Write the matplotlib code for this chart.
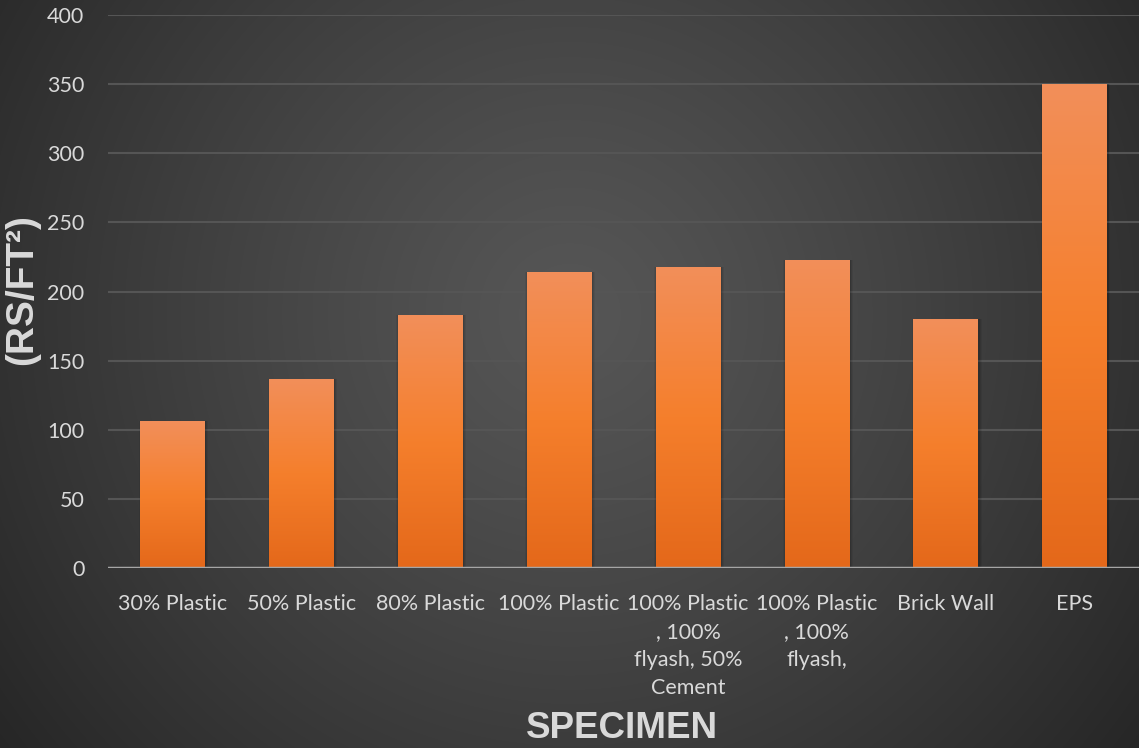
import numpy as np
import matplotlib
matplotlib.use("Agg")
import matplotlib.pyplot as plt
from matplotlib.colors import LinearSegmentedColormap

categories = ["30% Plastic", "50% Plastic", "80% Plastic", "100% Plastic",
              "100% Plastic\n, 100%\nflyash, 50%\nCement",
              "100% Plastic\n, 100%\nflyash,",
              "Brick Wall", "EPS"]
cost = [106, 137, 183, 214, 218, 223, 180, 350]
yticks = [0, 50, 100, 150, 200, 250, 300, 350, 400]

W, H = 1139, 748
fig = plt.figure(figsize=(W / 100, H / 100), dpi=100)

# radial background
bg = fig.add_axes([0, 0, 1, 1], zorder=-10)
yy, xx = np.mgrid[0:H, 0:W]
r = np.sqrt(((xx - 0.5 * W) / (0.62 * W)) ** 2 + ((yy - 0.42 * H) / (0.62 * W)) ** 2)
r = np.clip(r, 0, 1)
c0, c1 = 0x56 / 255, 0x27 / 255
val = c0 + (c1 - c0) * r ** 1.2
bg.imshow(np.dstack([val, val, val]), aspect="auto", extent=[0, 1, 0, 1])
bg.set_axis_off()

ax = fig.add_axes([108 / W, 1 - 568 / H, 1 - 108 / W, (568 - 15) / H])
ax.set_facecolor("none")
x = np.arange(len(categories))
bars = ax.bar(x, cost, width=0.5, color="#f47c2a", zorder=3)

grad = LinearSegmentedColormap.from_list("g", ["#e4681a", "#f57f2c", "#f28f5a"])
g = np.linspace(0, 1, 256).reshape(-1, 1)
for b in bars:
    x0, w, h = b.get_x(), b.get_width(), b.get_height()
    # soft shadow
    for k, a in [(0.04, 0.06), (0.025, 0.08), (0.012, 0.1)]:
        ax.bar(x0 + w / 2 + 0.008, h + 0.5, width=w + k, bottom=-0.5, color="black",
               alpha=a, zorder=2, linewidth=0)
    im = ax.imshow(g, cmap=grad, origin="lower", aspect="auto",
                   extent=[x0, x0 + w, 0, h], zorder=3)
    im.set_clip_path(b)

ax.set_xlim(-0.5, len(categories) - 0.5)
ax.set_ylim(0, 400)
ax.set_yticks(yticks)
ax.yaxis.grid(True, color="#555555", linewidth=1.5, zorder=1)
ax.axhline(0, color="#a6a6a6", linewidth=2.5, zorder=4)
for s in ax.spines.values():
    s.set_visible(False)

ax.set_xticks(x)
ax.set_xticklabels(categories, family="Lato", fontsize=15.5, color="#d9d9d9", linespacing=1.5)
for t in ax.get_yticklabels():
    t.set_family("Lato")
    t.set_fontsize(15.5)
    t.set_color("#d9d9d9")
ax.tick_params(axis="both", length=0)
ax.tick_params(axis="x", pad=19)
ax.tick_params(axis="y", pad=17)

fig.text(622 / W, 1 - 729 / H, "SPECIMEN", family="Liberation Sans", fontweight="bold",
         fontsize=26.5, color="#d9d9d9", ha="center", va="center")
fig.text(22 / W, 1 - 290 / H, "(RS/FT²)", family="Liberation Sans", fontweight="bold",
         fontsize=28, color="#d9d9d9", ha="center", va="center", rotation=90)

fig.savefig("out.png", dpi=100)
